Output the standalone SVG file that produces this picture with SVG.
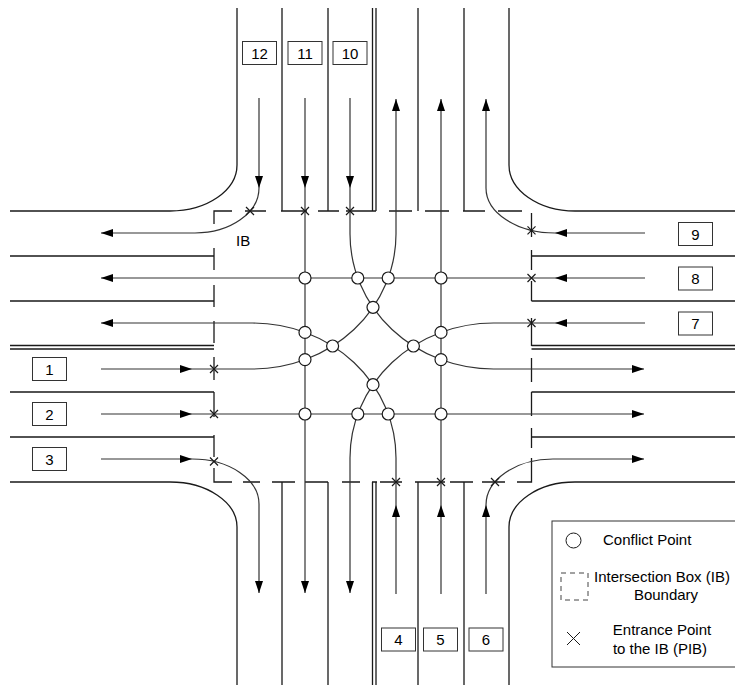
<svg xmlns="http://www.w3.org/2000/svg" xmlns:xlink="http://www.w3.org/1999/xlink" width="735" height="685" viewBox="0 0 735 685">
<defs>
<style>
.road{stroke:#1a1a1a;stroke-width:1.3;fill:none}
.ib{stroke:#1a1a1a;stroke-width:1.3;fill:none}
.lane{stroke:#333;stroke-width:1.2;fill:none;marker-end:url(#arr)}
.cp{fill:#fff;stroke:#1a1a1a;stroke-width:1.2}
.xm{stroke:#1a1a1a;stroke-width:1.2;fill:none}
.box{fill:#fff;stroke:#333;stroke-width:1}
.t{font-family:"Liberation Sans",Arial,sans-serif;font-size:15px;fill:#000}
.c{text-anchor:middle}
</style>
<marker id="arr" viewBox="0 0 12 8" refX="12" refY="4" markerWidth="12" markerHeight="8" markerUnits="userSpaceOnUse" orient="auto"><path d="M0,0 L12,4 L0,8 z" fill="#000"/></marker>
<path id="x" d="M-4,-4 L4,4 M-4,4 L4,-4"/>
</defs>
<rect width="735" height="685" fill="#fff"/>

<g id="roads">
<path class="road" d="M237,8 V165 A67,46 0 0 1 170,211 H10"/>
<path class="road" d="M509,8 V165 A66,46 0 0 0 575,211 H735"/>
<path class="road" d="M10,482 H170 A67,45 0 0 1 237,527 V685"/>
<path class="road" d="M735,482 H575 A66,45 0 0 0 509,527 V685"/>
<path class="road" d="M282,8 V211 M328,8 V211 M372.5,8 V211 M376,8 V211 M418,8 V211 M464,8 V211"/>
<path class="road" d="M282,482 V685 M328,482 V685 M372.5,482 V685 M376,482 V685 M418,482 V685 M464,482 V685"/>
<path class="road" d="M10,256 H214 M10,301 H214 M10,345.5 H214 M10,349 H214 M10,392 H214 M10,437 H214"/>
<path class="road" d="M531.5,256 H735 M531.5,301 H735 M531.5,345.5 H735 M531.5,349 H735 M531.5,392 H735 M531.5,437 H735"/>
</g>

<g id="ib-boundary">
<path class="ib" d="M214,224 V211 H232 M245,211 H266 M281,211 H307 M318,211 H339 M346,211 H376 M389,211 H412 M425,211 H449 M463,211 H485 M498,211 H522"/>
<path class="ib" d="M214,248 V270 M214,285 V307 M214,321 V343 M214,357 V380 M214,392 V417 M214,435 V457 M214,468 V482 H232 M243,482 H260 M272,482 H295 M305,482 H328 M342,482 H360 M372,482 H377 M380,482 H402 M415,482 H445 M450,482 H473 M482,482 H505 M517,482 H531.5 V458"/>
<path class="ib" d="M531.5,213 V237 M531.5,250 V270 M531.5,281 V301 M531.5,318 V346 M531.5,358 V382 M531.5,392 V416 M531.5,428 V448"/>
<text class="t" x="236" y="246">IB</text>
</g>

<g id="connectors">
<path class="lane" d="M259,98 V188"/>
<path class="lane" d="M259,188 A64,45 0 0 1 195,233 H101"/>
<path class="lane" d="M305,98 V188"/>
<path class="lane" d="M305,188 V593"/>
<path class="lane" d="M350,98 V188"/>
<path class="lane" d="M350,188 V234 A143.5,135 0 0 0 493.5,369 H644"/>
<path class="lane" d="M645,233 H555"/>
<path class="lane" d="M555,233 A69,45 0 0 1 486,188 V99"/>
<path class="lane" d="M645,278 H555"/>
<path class="lane" d="M555,278 H101"/>
<path class="lane" d="M645,323 H555"/>
<path class="lane" d="M555,323 H493.5 A143.5,135 0 0 0 350,458 V593"/>
<path class="lane" d="M486,594 V505"/>
<path class="lane" d="M486,505 A67,46 0 0 1 553,459 H644"/>
<path class="lane" d="M441,594 V505"/>
<path class="lane" d="M441,505 V99"/>
<path class="lane" d="M396,594 V505"/>
<path class="lane" d="M396,505 V458 A143.5,135 0 0 0 252.5,323 H101"/>
<path class="lane" d="M101,459 H192"/>
<path class="lane" d="M192,459 A67,45 0 0 1 259,504 V593"/>
<path class="lane" d="M101,414 H192"/>
<path class="lane" d="M192,414 H644"/>
<path class="lane" d="M101,369 H192"/>
<path class="lane" d="M192,369 H252.5 A143.5,135 0 0 0 396,234 V99"/>
</g>

<g id="entrance-points" class="xm">
<use xlink:href="#x" x="250" y="211"/>
<use xlink:href="#x" x="305" y="211"/>
<use xlink:href="#x" x="350" y="211"/>
<use xlink:href="#x" x="531.5" y="230.3"/>
<use xlink:href="#x" x="531.5" y="278"/>
<use xlink:href="#x" x="531.5" y="323"/>
<use xlink:href="#x" x="396" y="482"/>
<use xlink:href="#x" x="441" y="482"/>
<use xlink:href="#x" x="495" y="482"/>
<use xlink:href="#x" x="214" y="369"/>
<use xlink:href="#x" x="214" y="414"/>
<use xlink:href="#x" x="214" y="461.5"/>
</g>

<g id="conflict-points">
<circle class="cp" cx="305" cy="278" r="6"/>
<circle class="cp" cx="357.8" cy="278" r="6"/>
<circle class="cp" cx="388.2" cy="278" r="6"/>
<circle class="cp" cx="441" cy="278" r="6"/>
<circle class="cp" cx="305" cy="414" r="6"/>
<circle class="cp" cx="357.8" cy="414" r="6"/>
<circle class="cp" cx="388.2" cy="414" r="6"/>
<circle class="cp" cx="441" cy="414" r="6"/>
<circle class="cp" cx="305" cy="332.4" r="6"/>
<circle class="cp" cx="305" cy="359.6" r="6"/>
<circle class="cp" cx="441" cy="332.4" r="6"/>
<circle class="cp" cx="441" cy="359.6" r="6"/>
<circle class="cp" cx="373" cy="307.3" r="6"/>
<circle class="cp" cx="373" cy="384.7" r="6"/>
<circle class="cp" cx="332.6" cy="346" r="6"/>
<circle class="cp" cx="413.4" cy="346" r="6"/>
</g>

<g id="lane-12"><rect class="box" x="242.5" y="41.5" width="34" height="23"/><text class="t c" x="259.5" y="58.5">12</text></g>
<g id="lane-11"><rect class="box" x="288" y="41.5" width="34" height="23"/><text class="t c" x="305" y="58.5">11</text></g>
<g id="lane-10"><rect class="box" x="333" y="41.5" width="34" height="23"/><text class="t c" x="350" y="58.5">10</text></g>
<g id="lane-9"><rect class="box" x="678.5" y="222.5" width="34" height="23"/><text class="t c" x="695.5" y="239.5">9</text></g>
<g id="lane-8"><rect class="box" x="678.5" y="267" width="34" height="23"/><text class="t c" x="695.5" y="284">8</text></g>
<g id="lane-7"><rect class="box" x="678.5" y="312" width="34" height="23"/><text class="t c" x="695.5" y="329">7</text></g>
<g id="lane-1"><rect class="box" x="32.5" y="357.5" width="34" height="23"/><text class="t c" x="49.5" y="374.5">1</text></g>
<g id="lane-2"><rect class="box" x="32.5" y="402.5" width="34" height="23"/><text class="t c" x="49.5" y="419.5">2</text></g>
<g id="lane-3"><rect class="box" x="32.5" y="447.5" width="34" height="23"/><text class="t c" x="49.5" y="464.5">3</text></g>
<g id="lane-4"><rect class="box" x="381.5" y="628" width="34" height="23"/><text class="t c" x="398.5" y="645">4</text></g>
<g id="lane-5"><rect class="box" x="423.5" y="628" width="34" height="23"/><text class="t c" x="440.5" y="645">5</text></g>
<g id="lane-6"><rect class="box" x="469" y="628" width="34" height="23"/><text class="t c" x="486" y="645">6</text></g>

<g id="legend">
<rect x="552" y="521" width="200" height="146" fill="#fff" stroke="#333" stroke-width="1"/>
<circle cx="573.5" cy="540.5" r="7.5" fill="#fff" stroke="#1a1a1a" stroke-width="1"/>
<text class="t" x="603" y="544.5">Conflict Point</text>
<rect x="561" y="573" width="27" height="27" fill="none" stroke="#444" stroke-width="1" stroke-dasharray="5 4"/>
<text class="t c" x="662" y="582">Intersection Box (IB)</text>
<text class="t c" x="666" y="600">Boundary</text>
<path d="M567,632 L580,645 M567,645 L580,632" stroke="#1a1a1a" stroke-width="1" fill="none"/>
<text class="t c" x="662" y="635">Entrance Point</text>
<text class="t c" x="660" y="654">to the IB (PIB)</text>
</g>
</svg>
